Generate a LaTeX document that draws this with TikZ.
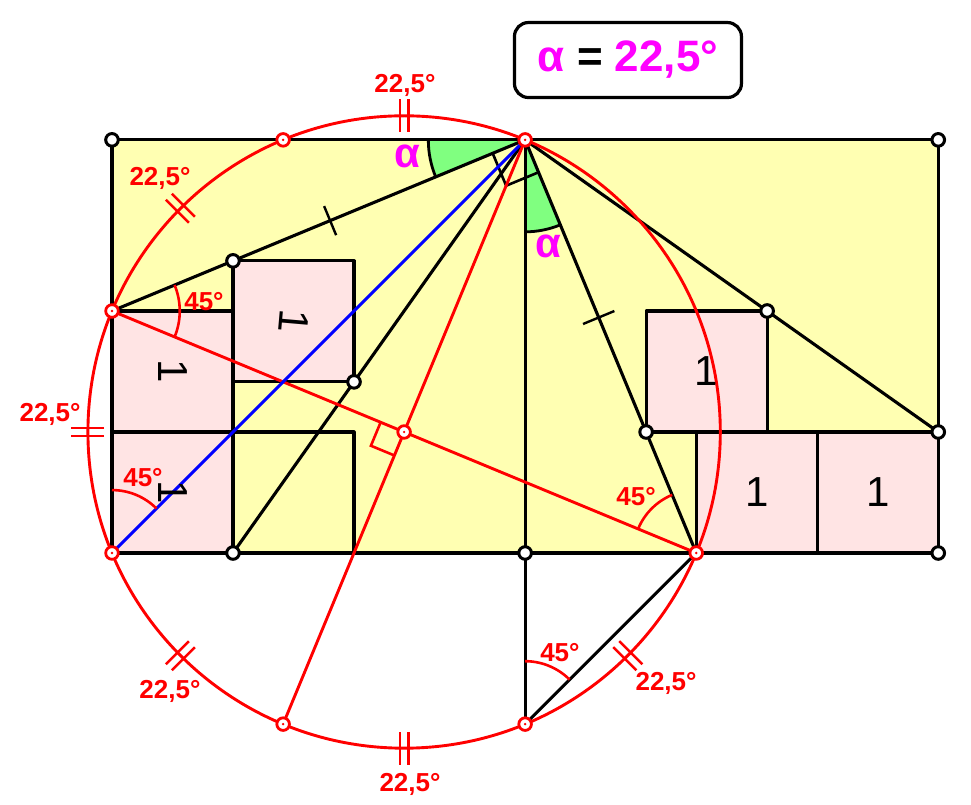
\documentclass[tikz,border=0pt]{standalone}
\usepackage{fontspec}
\setmainfont{Liberation Sans}
\usetikzlibrary{calc}
\definecolor{rectyellow}{HTML}{FFFFB2}
\definecolor{sqpink}{HTML}{FFE4E4}
\definecolor{wedgegreen}{HTML}{80FF80}
\definecolor{mag}{HTML}{FF00FF}
\begin{document}
\begin{tikzpicture}[x=121pt,y=121pt,
  blk/.style={line width=3.1pt, black, line join=round},
  redl/.style={line width=2.9pt, red},
  ang/.style={line width=2.6pt, red},
  lab/.style={text=red, font=\fontsize{26}{28}\selectfont\bfseries, inner sep=0pt},
  one/.style={font=\fontsize{42}{44}\selectfont, inner sep=0pt},
  alab/.style={text=mag, font=\fontsize{42}{44}\selectfont\bfseries, inner sep=0pt},
  bpt/.style={fill=white, draw=black, line width=3pt},
  rpt/.style={fill=white, draw=red, line width=2.8pt},
]
\useasboundingbox (-0.9256,-2.0826) rectangle (7.0992,4.5702);
% points
\coordinate (O) at (0,0);
\coordinate (TL) at (0,3.414214);
\coordinate (TR) at (6.828427,3.414214);
\coordinate (BR) at (6.828427,0);
\coordinate (A2) at (0,2);
\coordinate (P) at (3.414214,3.414214);
\coordinate (U1) at (1.414214,3.414214);
\coordinate (C) at (2.414214,1);
\coordinate (Q) at (4.828427,0);
\coordinate (L1) at (1.414214,-1.414214);
\coordinate (L2) at (3.414214,-1.414214);
\coordinate (M) at (3.414214,0);
\coordinate (B1) at (1,2.414214);
\coordinate (B2) at (2,1.414214);
\coordinate (B3) at (1,0);
\coordinate (R1) at (4.414214,1);
\coordinate (R2) at (5.414214,2);
\coordinate (R3) at (6.828427,1);
\coordinate (S1) at (5.828427,0);
\coordinate (S2) at (5.828427,1);
% fills
\fill[rectyellow] (O) rectangle (TR);
\fill[sqpink] (0,0) rectangle (1,2);
\fill[sqpink] (1,1.414214) rectangle (B1 -| B2);
\fill[sqpink] (R1) rectangle (R2);
\fill[sqpink] (Q) rectangle (R3);
% green wedges
\fill[wedgegreen] (P) -- ++(180:0.8) arc[start angle=180,end angle=202.5,radius=0.8] -- cycle;
\draw[line width=2.8pt] ($(P)+(180:0.8)$) arc[start angle=180,end angle=202.5,radius=0.8];
\fill[wedgegreen] (P) -- ++(270:0.76) arc[start angle=270,end angle=292.5,radius=0.76] -- cycle;
\draw[line width=2.8pt] ($(P)+(270:0.76)$) arc[start angle=270,end angle=292.5,radius=0.76];
% squares
\draw[blk] (0,0) rectangle (1,1);
\draw[blk] (0,1) rectangle (1,2);
\draw[blk] (1,1.414214) rectangle (2,2.414214);
\draw[blk] (1,0) rectangle (2,1);
\draw[blk] (R1) rectangle (R2);
\draw[blk] (Q) rectangle (S2);
\draw[blk] (S1) rectangle (R3);
% rectangle
\draw[blk] (TL) -- (TR) -- (BR) -- (O) -- cycle;
% black lines
\draw[blk] (A2) -- (B1) -- (P);
\draw[blk] (P) -- (B2) -- (B3);
\draw[blk] (P) -- (M) -- (L2);
\draw[blk] (P) -- (R1) -- (Q) -- (L2);
\draw[blk] (P) -- (R2) -- (R3);
% right angle at P
\draw[line width=2.6pt] ($(P)+(202.5:0.29)$) -- ++(292.5:0.29) -- ++(22.5:0.29);
% single ticks
\path (A2) -- (P) coordinate[pos=0.528] (t1);
\path (P) -- (Q) coordinate[pos=0.43] (t2);
\draw[line width=2.4pt] ($(t1)+(112.5:0.13)$) -- ($(t1)+(292.5:0.13)$);
\draw[line width=2.4pt] ($(t2)+(22.5:0.14)$) -- ($(t2)+(202.5:0.14)$);
% red circle and lines
\draw[redl] (C) circle[radius=2.613126];
\draw[redl] (A2) -- (C) -- (Q);
\draw[redl] (P) -- (C) -- (L1);
\draw[ang] ($(C)+(157.5:0.21)$) -- ++(247.5:0.21) -- ++(-22.5:0.21);
% blue diagonal
\draw[line width=3.1pt, blue] (O) -- (P);
% angle arcs
\draw[ang] ($(A2)+(-22.5:0.56)$) arc[start angle=-22.5,end angle=22.5,radius=0.56];
\draw[ang] ($(O)+(45:0.52)$) arc[start angle=45,end angle=90,radius=0.52];
\draw[ang] ($(Q)+(112.5:0.52)$) arc[start angle=112.5,end angle=157.5,radius=0.52];
\draw[ang] ($(L2)+(45:0.52)$) arc[start angle=45,end angle=90,radius=0.52];
% double ticks on arcs
\foreach \a in {90,135,180,225,270,315}{
  \begin{scope}[shift={(C)},rotate=\a]
    \draw[red,line width=2.5pt] (2.48,0.035) -- (2.75,0.035) (2.48,-0.035) -- (2.75,-0.035);
  \end{scope}}
% labels 22,5
\node[lab] (a1) at (2.421,3.868) {22,5°};
\node[lab] (a2) at (0.397,3.099) {22,5°};
\node[lab] (a3) at (-0.512,1.149) {22,5°};
\node[lab] (a4) at (0.479,-1.140) {22,5°};
\node[lab] (a5) at (2.463,-1.909) {22,5°};
\node[lab] (a6) at (4.579,-1.074) {22,5°};
% labels 45
\node[lab] (b1) at (0.760,2.074) {45°};
\node[lab] (b2) at (0.256,0.620) {45°};
\node[lab] (b3) at (4.331,0.463) {45°};
\node[lab] (b4) at (3.702,-0.826) {45°};
% alpha labels
\node[alab] (al1) at (2.438,3.28) {α};
\node[alab] (al2) at (3.603,2.53) {α};
% ones
\node[one, rotate=-90] (n1) at (0.5,1.5) {1};
\node[one, rotate=-90] (n2) at (0.5,0.5) {1};
\node[one, rotate=-95] (n3) at (1.5,1.914214) {1};
\node[one] (n4) at (4.914214,1.5) {1};
\node[one] (n5) at (5.328427,0.5) {1};
\node[one] (n6) at (6.328427,0.5) {1};
% title
\node[draw, line width=3.2pt, rounded corners=14pt, minimum width=227pt, minimum height=75pt, fill=white, font=\fontsize{44}{46}\selectfont\bfseries] (title) at (4.264,4.074) {\textcolor{mag}{α} = \textcolor{mag}{22,5°}};
% markers
\foreach \p in {TL,TR,BR,R3,R2,R1,B1,B2,B3,M} {\filldraw[bpt] (\p) circle (6.3pt);}
\foreach \p in {P,U1,A2,O,L1,L2,Q,C} {\filldraw[rpt] (\p) circle (6.3pt); \fill[red] (\p) circle (1.3pt);}
\end{tikzpicture}
\end{document}
